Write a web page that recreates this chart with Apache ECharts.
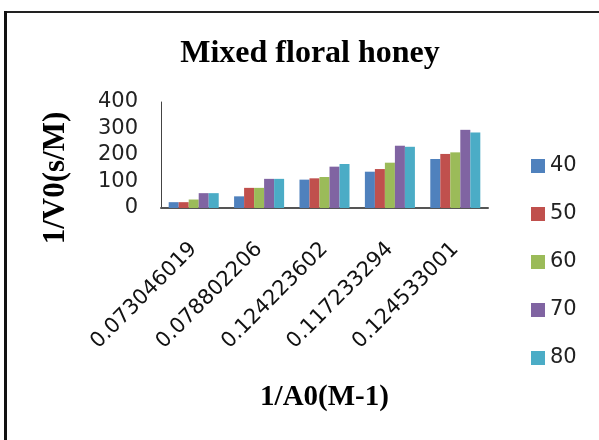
<!DOCTYPE html>
<html>
<head>
<meta charset="utf-8">
<script src="https://cdn.jsdelivr.net/npm/echarts@6/dist/echarts.min.js"></script>
<style>
html,body{margin:0;padding:0;background:#fff;}
#wrap{position:relative;width:599px;height:440px;overflow:hidden;}
#chart{position:absolute;left:0;top:0;width:599px;height:440px;}
#bt{position:absolute;left:4px;top:11px;width:595px;height:2px;background:#222;}
#bl{position:absolute;left:4px;top:11px;width:3px;height:429px;background:#111;}
</style>
</head>
<body>
<div id="wrap">
<div id="chart"></div>
<div id="bt"></div>
<div id="bl"></div>
</div>
<script>
var categories = ['0.073046019', '0.078802206', '0.124223602', '0.117233294', '0.124533001'];
var seriesNames = ['40', '50', '60', '70', '80'];
var s40 = [22, 44, 107, 137, 185];
var s50 = [22, 76, 112, 147, 204];
var s60 = [32, 76, 117, 171, 210];
var s70 = [56, 110, 156, 235, 295];
var s80 = [56, 110, 166, 231, 285];
var colors = ['#4F81BD', '#C0504D', '#9BBB59', '#8064A2', '#4BACC6'];
var yTicks = [0, 100, 200, 300, 400];

var dataSets = [s40, s50, s60, s70, s80];
var chart = echarts.init(document.getElementById('chart'), null, {renderer: 'canvas'});
var sans = 'DejaVu Sans';
var serif = 'Liberation Serif';

chart.setOption({
  animation: false,
  backgroundColor: '#fff',
  title: {
    text: 'Mixed floral honey',
    left: 305, textAlign: 'center', top: 33,
    textStyle: {fontFamily: serif, fontWeight: 'bold', fontSize: 32, color: '#000'}
  },
  legend: {
    orient: 'vertical',
    left: 531, top: 155,
    padding: 0,
    itemWidth: 14, itemHeight: 14,
    itemGap: 26,
    icon: 'rect',
    textStyle: {fontFamily: sans, fontSize: 21, color: '#222', lineHeight: 22},
    data: seriesNames
  },
  grid: {left: 161, right: 111, top: 102, bottom: 232, containLabel: false},
  xAxis: {
    type: 'category',
    data: categories,
    name: '1/A0(M-1)',
    nameLocation: 'middle',
    nameGap: 175,
    nameTextStyle: {fontFamily: serif, fontWeight: 'bold', fontSize: 29, color: '#000'},
    axisLine: {lineStyle: {color: '#555', width: 2}},
    axisTick: {show: false},
    axisLabel: {rotate: 45, margin: 38, fontFamily: sans, fontSize: 21, color: '#111', interval: 0}
  },
  yAxis: {
    type: 'value',
    min: yTicks[0], max: yTicks[yTicks.length - 1], interval: 100,
    name: '1/V0(s/M)',
    nameLocation: 'middle',
    nameGap: 90,
    nameRotate: 90,
    nameTextStyle: {fontFamily: serif, fontWeight: 'bold', fontSize: 31, color: '#000', padding: [0, 46, 0, 0]},
    axisLine: {show: true, lineStyle: {color: '#444', width: 1}},
    axisTick: {show: false},
    splitLine: {show: false},
    axisLabel: {margin: 23, fontFamily: sans, fontSize: 21, color: '#222'}
  },
  series: seriesNames.map(function (n, i) {
    return {
      name: n, type: 'bar', data: dataSets[i],
      barGap: '0%', barCategoryGap: '23.5%',
      itemStyle: {color: colors[i]}
    };
  })
});
</script>
</body>
</html>
